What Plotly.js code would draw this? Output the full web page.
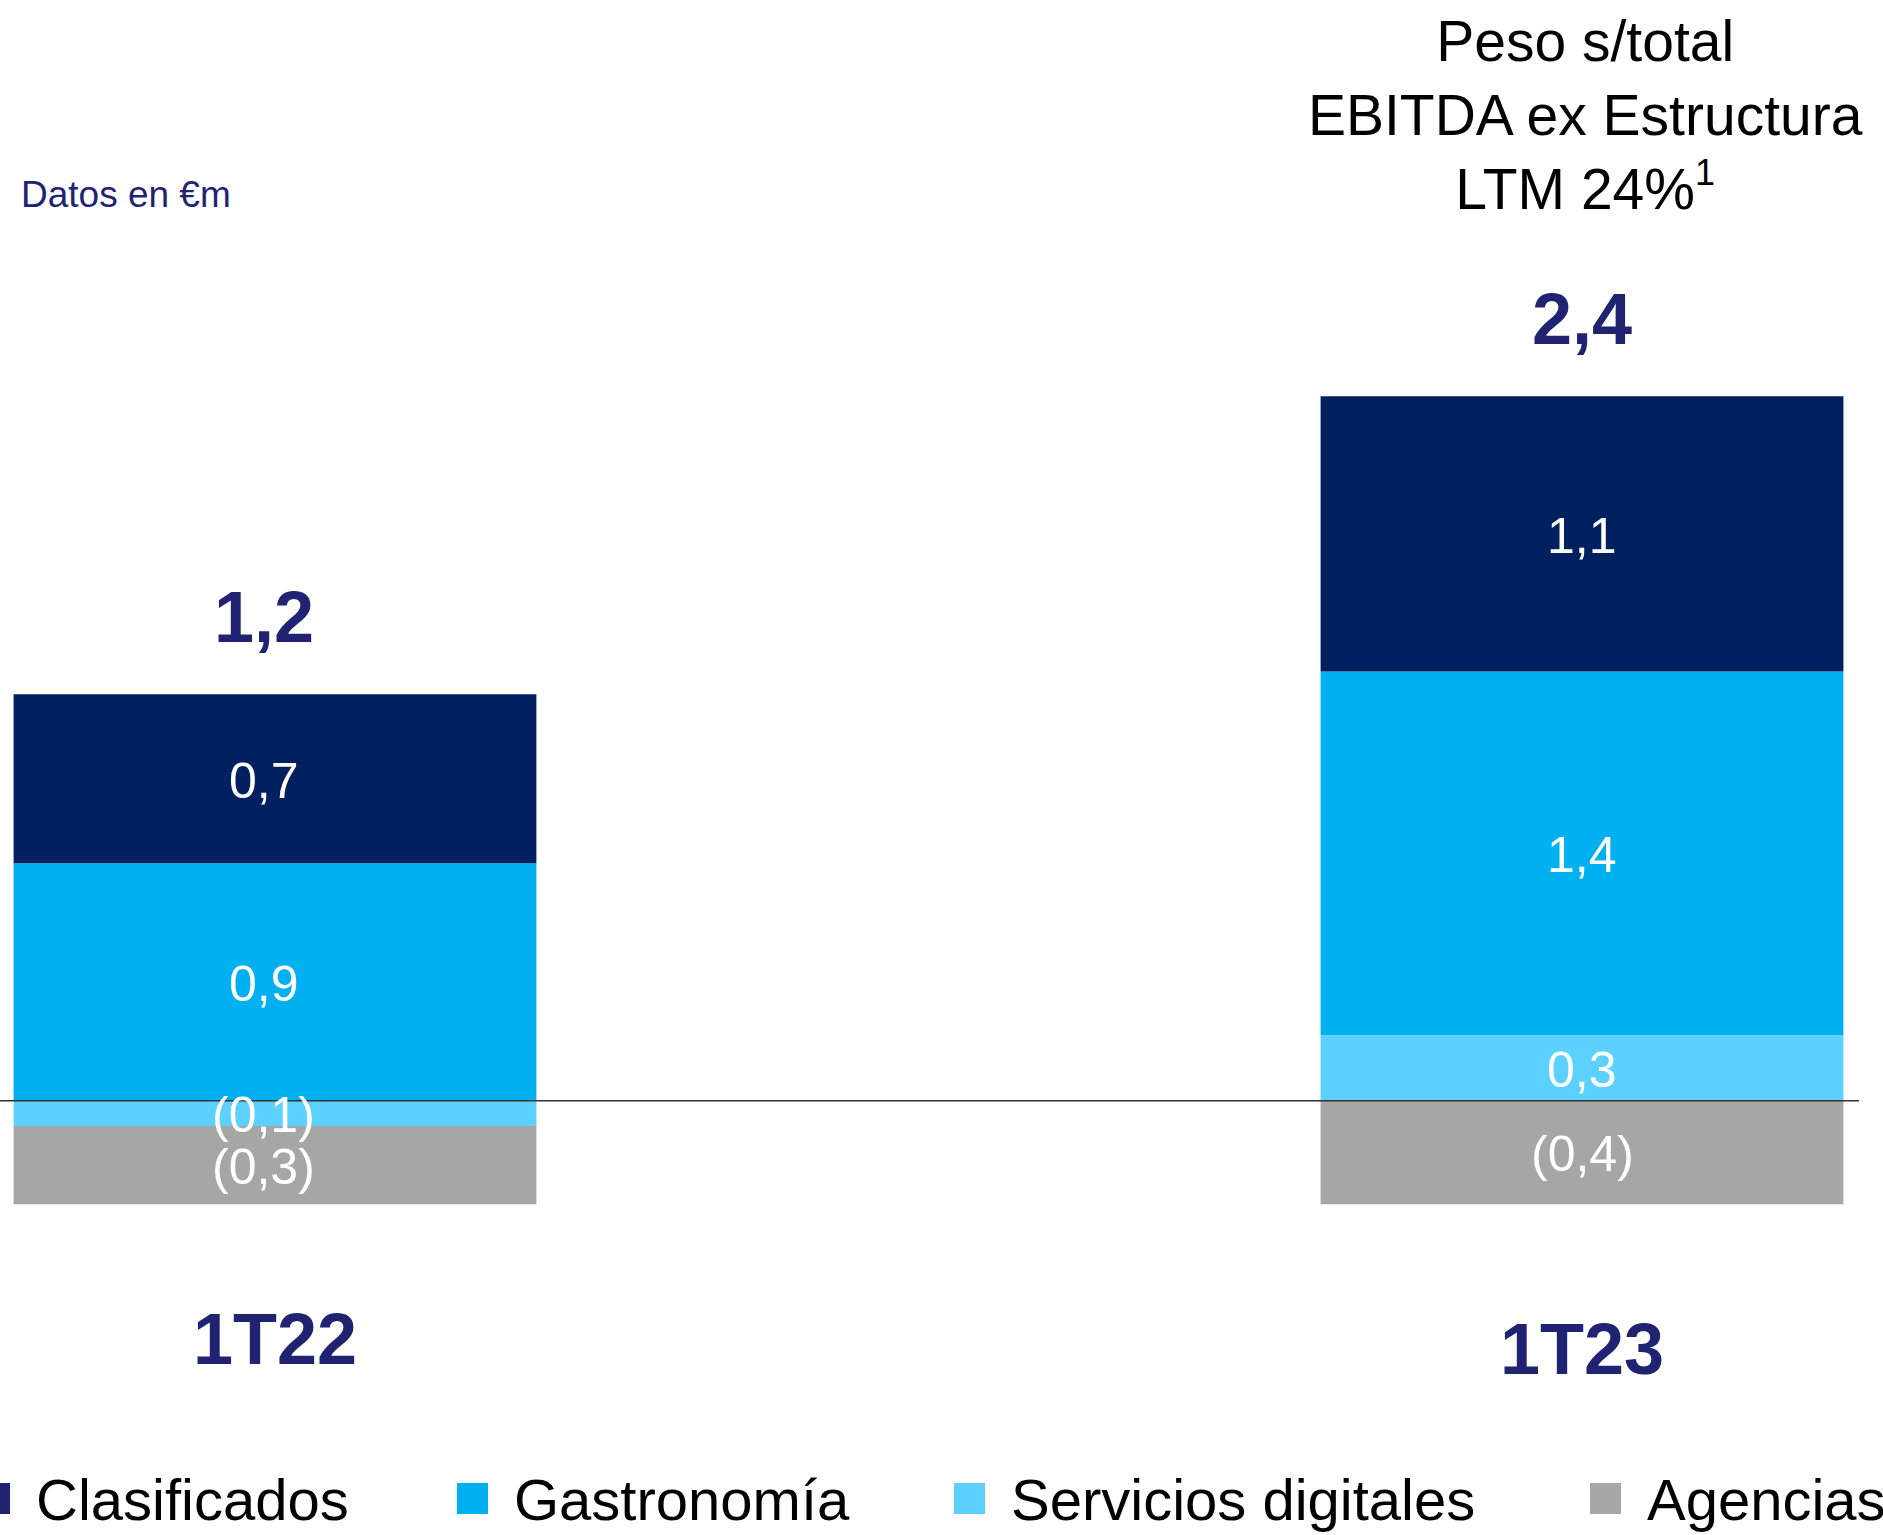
<!DOCTYPE html>
<html>
<head>
<meta charset="utf-8">
<script src="https://cdn.plot.ly/plotly-3.0.1.min.js"></script>
<style>
  html, body { margin: 0; padding: 0; background: #ffffff; }
  #chart { width: 1883px; height: 1535px; }
</style>
</head>
<body>
<div id="chart"></div>
<script>
// Data (EBITDA por vertical, datos en €m)
var categories = ['1T22', '1T23'];
var clasificados = [0.67, 1.09];
var gastronomia = [0.94, 1.44];
var serviciosDigitales = [-0.10, 0.26];
var agencias = [-0.31, -0.41];

var W = 1883, H = 1535;
var FONT = 'Liberation Sans, Arial, sans-serif';
var NAVY = '#1f2372';

// label format: decimal comma, negatives in brackets
function fmt(v) {
  var s = Math.abs(v).toFixed(1).replace('.', ',');
  return v < 0 ? '(' + s + ')' : s;
}

// trace order sets the stacking (first trace sits next to zero)
var series = [
  { name: 'Servicios digitales', values: serviciosDigitales, color: '#5cd1ff' },
  { name: 'Agencias', values: agencias, color: '#a6a6a6' },
  { name: 'Gastronomía', values: gastronomia, color: '#00b0f0' },
  { name: 'Clasificados', values: clasificados, color: '#002060' }
];

var data = series.map(function (s) {
  return {
    type: 'bar',
    name: s.name,
    x: categories,
    y: s.values,
    marker: { color: s.color },
    hoverinfo: 'skip',
    showlegend: false
  };
});

// legend drawn by hand so the squares can be large
var legendItems = [
  { name: 'Clasificados', color: '#1f2372', left: -21 },
  { name: 'Gastronomía', color: '#00b0f0', left: 457 },
  { name: 'Servicios digitales', color: '#5cd1ff', left: 954 },
  { name: 'Agencias', color: '#a6a6a6', left: 1590 }
];

var annotations = [];
var shapes = [];
var labelShift = [-11, 0];   // labels of the first bar sit a little left of centre

// value labels in the middle of each segment, drawn on top of all bars
categories.forEach(function (c, i) {
  var pos = 0, neg = 0;
  series.forEach(function (s) {
    var v = s.values[i], mid;
    if (v >= 0) { mid = pos + v / 2; pos += v; }
    else { mid = neg + v / 2; neg += v; }
    annotations.push({
      xref: 'x', yref: 'y', x: c, y: mid, xshift: labelShift[i], yshift: -2,
      text: fmt(v), showarrow: false, yanchor: 'middle',
      font: { family: FONT, size: 50, color: '#ffffff' }
    });
  });
  var total = series.reduce(function (a, s) { return a + s.values[i]; }, 0);
  annotations.push({
    xref: 'x', yref: 'y', x: c, y: pos, yshift: 77, xshift: labelShift[i],
    text: fmt(total), showarrow: false, yanchor: 'middle',
    font: { family: FONT, size: 72, color: NAVY, weight: 'bold' }
  });
});

// category labels under the bars
var labelY = [1339, 1349];
categories.forEach(function (c, i) {
  annotations.push({
    xref: 'x', yref: 'paper', x: c, y: 1 - labelY[i] / H,
    text: c, showarrow: false, yanchor: 'middle',
    font: { family: FONT, size: 72, color: NAVY, weight: 'bold' }
  });
});

annotations.push({
  xref: 'paper', yref: 'paper', x: 19 / W, y: 1 - 194 / H,
  xanchor: 'left', yanchor: 'middle', showarrow: false,
  text: 'Datos en €m',
  font: { family: FONT, size: 37, color: NAVY }
});

annotations.push({
  xref: 'paper', yref: 'paper', x: 1585 / W, y: 1 - 115 / H,
  xanchor: 'center', yanchor: 'middle', showarrow: false, align: 'center',
  text: 'Peso s/total<br>EBITDA ex Estructura<br>LTM 24%<sup><span style="font-size:36px">1</span></sup>',
  font: { family: FONT, size: 57, color: '#000000' }
});

legendItems.forEach(function (it) {
  shapes.push({
    type: 'rect', xref: 'paper', yref: 'paper', layer: 'above',
    x0: it.left / W, x1: (it.left + 31) / W,
    y0: 1 - 1514 / H, y1: 1 - 1483 / H,
    fillcolor: it.color, line: { width: 0 }
  });
  annotations.push({
    xref: 'paper', yref: 'paper', x: (it.left + 55) / W, y: 1 - 1499 / H,
    xanchor: 'left', yanchor: 'middle', showarrow: false,
    text: it.name,
    font: { family: FONT, size: 58, color: '#000000' }
  });
});

// zero line across the bars
shapes.push({
  type: 'line', xref: 'paper', yref: 'y', layer: 'above',
  x0: 0, x1: 1859 / W, y0: 0, y1: 0,
  line: { color: '#333333', width: 1.5 }
});

var layout = {
  width: W,
  height: H,
  margin: { l: 0, r: 0, t: 0, b: 0 },
  paper_bgcolor: '#ffffff',
  plot_bgcolor: '#ffffff',
  barmode: 'relative',
  bargap: 0.6,
  showlegend: false,
  xaxis: {
    type: 'category',
    range: [-0.2104, 1.2303],
    showgrid: false, zeroline: false, showticklabels: false, showline: false,
    fixedrange: true
  },
  yaxis: {
    range: [-1.72, 4.359],
    showgrid: false, zeroline: false, showticklabels: false, showline: false,
    fixedrange: true
  },
  annotations: annotations,
  shapes: shapes
};

Plotly.newPlot('chart', data, layout, { displayModeBar: false, staticPlot: true });
</script>
</body>
</html>
